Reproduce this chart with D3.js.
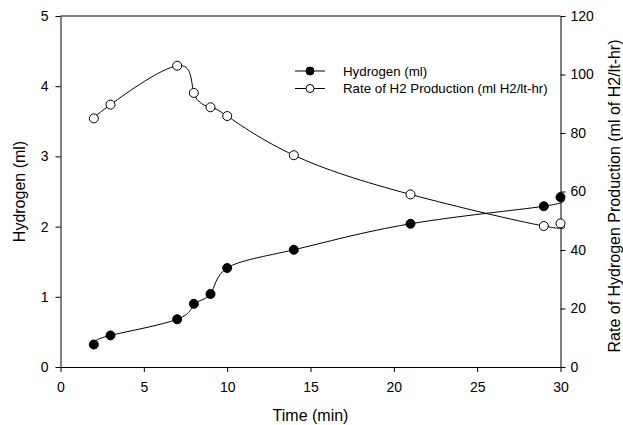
<!DOCTYPE html>
<html>
<head>
<meta charset="utf-8">
<script src="https://cdn.jsdelivr.net/npm/d3@7"></script>
<style>
  body { margin: 0; background: #fff; }
  svg text { font-family: "Liberation Sans", Arial, sans-serif; fill: #000; }
</style>
</head>
<body>
<svg id="chart"></svg>
<script>
// data
let times = [2, 3, 7, 8, 9, 10, 14, 21, 29, 30];
let hydrogen = [0.32, 0.45, 0.68, 0.90, 1.04, 1.41, 1.67, 2.04, 2.29, 2.42];
let rate = [85.0, 89.7, 103.0, 93.7, 88.8, 85.8, 72.4, 59.0, 48.2, 49.1];
let xTicks = [0, 5, 10, 15, 20, 25, 30];
let yLeftTicks = [0, 1, 2, 3, 4, 5];
let yRightTicks = [0, 20, 40, 60, 80, 100, 120];

let WIDTH = 623;
let HEIGHT = 425;
let margin = {left: 60.5, right: 62.5, top: 16, bottom: 58};

let svg = d3.select("#chart")
  .attr("width", WIDTH)
  .attr("height", HEIGHT);

let x = d3.scaleLinear().domain([0, 30]).range([margin.left, WIDTH - margin.right]);
let yL = d3.scaleLinear().domain([0, 5]).range([HEIGHT - margin.bottom, margin.top]);
let yR = d3.scaleLinear().domain([0, 120]).range([HEIGHT - margin.bottom, margin.top]);

// frame top line
svg.append("line")
  .attr("x1", x(0)).attr("x2", x(30))
  .attr("y1", yL(5)).attr("y2", yL(5))
  .attr("stroke", "#000");

let fmt = d3.format("d");

let gx = svg.append("g")
  .attr("transform", "translate(0," + yL(0) + ")")
  .call(d3.axisBottom(x).tickValues(xTicks).tickFormat(fmt).tickSize(5).tickSizeOuter(0).tickPadding(10));

let gl = svg.append("g")
  .attr("transform", "translate(" + x(0) + ",0)")
  .call(d3.axisLeft(yL).tickValues(yLeftTicks).tickFormat(fmt).tickSize(5).tickSizeOuter(0).tickPadding(7));

let gr = svg.append("g")
  .attr("transform", "translate(" + x(30) + ",0)")
  .call(d3.axisRight(yR).tickValues(yRightTicks).tickFormat(fmt).tickSize(5).tickSizeOuter(0).tickPadding(5));

[gx, gl, gr].forEach((g) => {
  g.selectAll("text").style("font-size", "14px");
  g.select(".domain").attr("stroke", "#000");
  g.attr("font-family", null).attr("font-size", null);
});

// axis titles
svg.append("text")
  .attr("x", x(15))
  .attr("y", 421)
  .attr("text-anchor", "middle")
  .style("font-size", "16px")
  .text("Time (min)");

svg.append("text")
  .attr("transform", "translate(25," + yL(2.5) + ")rotate(-90)")
  .attr("text-anchor", "middle")
  .style("font-size", "16px")
  .text("Hydrogen (ml)");

svg.append("text")
  .attr("transform", "translate(620,196)rotate(-90)")
  .attr("text-anchor", "middle")
  .style("font-size", "16px")
  .text("Rate of Hydrogen Production (ml of H2/lt-hr)");

// curves
let hData = times.map((t, i) => [t, hydrogen[i]]);
let rData = times.map((t, i) => [t, rate[i]]);

let hLine = d3.line()
  .x(d => x(d[0]))
  .y(d => yL(d[1]))
  .curve(d3.curveNatural);

let rLine = d3.line()
  .x(d => x(d[0]))
  .y(d => yR(d[1]))
  .curve(d3.curveNatural);

svg.append("path")
  .datum(hData)
  .attr("d", hLine)
  .attr("fill", "none")
  .attr("stroke", "#000")
  .attr("stroke-width", 1);

svg.append("path")
  .datum(rData)
  .attr("d", rLine)
  .attr("fill", "none")
  .attr("stroke", "#000")
  .attr("stroke-width", 1);

svg.selectAll(".hDot")
  .data(hData)
  .enter().append("circle")
  .attr("class", "hDot")
  .attr("cx", d => x(d[0]))
  .attr("cy", d => yL(d[1]))
  .attr("r", 4.5)
  .attr("fill", "#000")
  .attr("stroke", "#000");

svg.selectAll(".rDot")
  .data(rData)
  .enter().append("circle")
  .attr("class", "rDot")
  .attr("cx", d => x(d[0]))
  .attr("cy", d => yR(d[1]))
  .attr("r", 4.5)
  .attr("fill", "#fff")
  .attr("stroke", "#000");

// legend
let legendItems = [
  {label: "Hydrogen (ml)", fill: "#000"},
  {label: "Rate of H2 Production (ml H2/lt-hr)", fill: "#fff"}
];

let legend = svg.append("g")
  .attr("transform", "translate(295,71)");

legendItems.forEach((item, i) => {
  let row = legend.append("g").attr("transform", "translate(0," + (i * 17.5) + ")");
  row.append("line")
    .attr("x1", 0).attr("x2", 30)
    .attr("stroke", "#000");
  row.append("circle")
    .attr("cx", 15).attr("r", 4)
    .attr("fill", item.fill)
    .attr("stroke", "#000");
  row.append("text")
    .attr("x", 48)
    .attr("dy", "0.35em")
    .style("font-size", "13.3px")
    .text(item.label);
});
</script>
</body>
</html>
